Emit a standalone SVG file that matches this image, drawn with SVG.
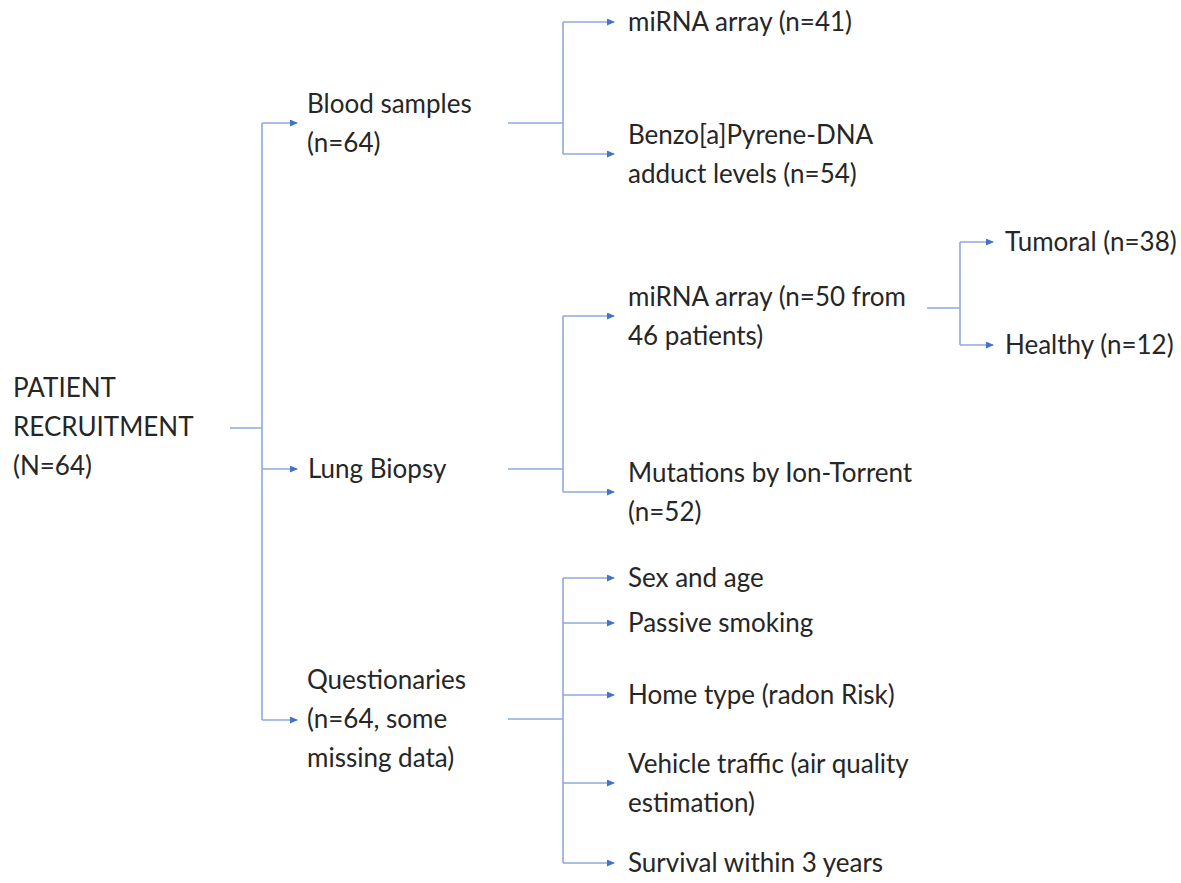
<svg xmlns="http://www.w3.org/2000/svg" width="1181" height="883" viewBox="0 0 1181 883">
<style>
  .t { font-family: Lato, "Open Sans", "Liberation Sans", sans-serif; font-size: 26px; fill: #262626; }
  .c { fill: none; stroke: #8eaadb; stroke-width: 1.6; }
  .a { marker-end: url(#ah); }
</style>
<defs>
  <marker id="ah" viewBox="0 0 8 7" refX="7" refY="3.5" markerWidth="8" markerHeight="7" markerUnits="userSpaceOnUse" orient="auto">
    <path d="M0,0 L8,3.5 L0,7 z" fill="#4472c4"/>
  </marker>
</defs>
<rect width="1181" height="883" fill="#ffffff"/>
<g id="connectors">
  <path class="c" d="M230,428 H262 M262,123 V720"/>
  <path class="c a" d="M262,123 H297"/>
  <path class="c a" d="M262,469 H297"/>
  <path class="c a" d="M262,720 H297"/>
  <path class="c" d="M508,123 H563 M563,22 V154"/>
  <path class="c a" d="M563,22 H614"/>
  <path class="c a" d="M563,154 H614"/>
  <path class="c" d="M508,469 H563 M563,316 V492"/>
  <path class="c a" d="M563,316 H614"/>
  <path class="c a" d="M563,492 H614"/>
  <path class="c" d="M927,308 H960 M960,242 V345"/>
  <path class="c a" d="M960,242 H993"/>
  <path class="c a" d="M960,345 H993"/>
  <path class="c" d="M508,719 H563 M563,578 V863"/>
  <path class="c a" d="M563,578 H614"/>
  <path class="c a" d="M563,623 H614"/>
  <path class="c a" d="M563,695 H614"/>
  <path class="c a" d="M563,783 H614"/>
  <path class="c a" d="M563,863 H614"/>
</g>
<g id="root"><text class="t" x="13" y="397">PATIENT</text><text class="t" x="13" y="436">RECRUITMENT</text><text class="t" x="13" y="475">(N=64)</text></g>
<g id="blood"><text class="t" x="307" y="113">Blood samples</text><text class="t" x="307" y="152">(n=64)</text></g>
<g id="lung"><text class="t" x="308" y="478">Lung Biopsy</text></g>
<g id="quest"><text class="t" x="307" y="689">Questionaries</text><text class="t" x="307" y="728">(n=64, some</text><text class="t" x="307" y="767">missing data)</text></g>
<g id="mirna-blood"><text class="t" x="628" y="31">miRNA array (n=41)</text></g>
<g id="bap"><text class="t" x="628" y="144">Benzo[a]Pyrene-DNA</text><text class="t" x="628" y="183">adduct levels (n=54)</text></g>
<g id="mirna-lung"><text class="t" x="628" y="306">miRNA array (n=50 from</text><text class="t" x="628" y="345">46 patients)</text></g>
<g id="mutations"><text class="t" x="628" y="482">Mutations by Ion-Torrent</text><text class="t" x="628" y="521">(n=52)</text></g>
<g id="tumoral"><text class="t" x="1005" y="251">Tumoral (n=38)</text></g>
<g id="healthy"><text class="t" x="1005" y="354">Healthy (n=12)</text></g>
<g id="sex"><text class="t" x="628" y="587">Sex and age</text></g>
<g id="passive"><text class="t" x="628" y="632">Passive smoking</text></g>
<g id="home"><text class="t" x="628" y="704">Home type (radon Risk)</text></g>
<g id="vehicle"><text class="t" x="628" y="773">Vehicle traffic (air quality</text><text class="t" x="628" y="812">estimation)</text></g>
<g id="survival"><text class="t" x="628" y="872">Survival within 3 years</text></g>
</svg>
